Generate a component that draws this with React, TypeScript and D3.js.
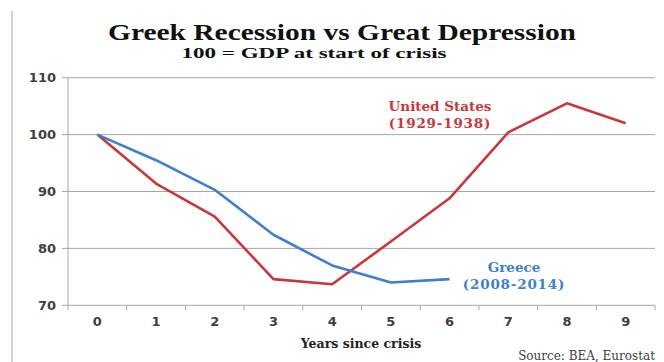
import React from "react";
import * as d3 from "d3";

const years = [0, 1, 2, 3, 4, 5, 6, 7, 8, 9];
const usValues = [100, 91.4, 85.6, 74.6, 73.7, 81.2, 88.8, 100.4, 105.5, 102.0];
const greeceValues = [100, 95.5, 90.3, 82.4, 77.0, 74.0, 74.6];
const yTicks = [70, 80, 90, 100, 110];

const W = 664;
const H = 362;
const left = 68;
const right = 655;
const top = 77.7;
const bottom = 305.3;

export default function App() {
  const x = d3.scaleBand<number>().domain(years).range([left, right]);
  const y = d3.scaleLinear().domain([70, 110]).range([bottom, top]);
  const cx = (i: number) => (x(years[i]) as number) + x.bandwidth() / 2;

  const line = d3
    .line<number>()
    .x((_, i) => cx(i))
    .y((d) => y(d));

  const grid = "#a6a6a6";
  const tickColor = "#404040";
  const red = "#c8383b";
  const blue = "#3f7fcf";
  const sans = "'DejaVu Sans', Verdana, sans-serif";
  const serif = "'DejaVu Serif', 'Liberation Serif', serif";
  const titleSerif = "'Liberation Serif', 'DejaVu Serif', serif";

  const boundaries = years.map((_, i) => left + i * x.step()).concat([right]);

  return (
    <svg
      width={W}
      height={H}
      style={{ position: "absolute", left: 0, top: 0, background: "#fff" }}
    >
      {/* frame edge */}
      <line x1={12} y1={11} x2={12} y2={H} stroke="#b5b5b5" strokeWidth={1.2} />

      {/* title */}
      <text
        x={342}
        y={40}
        textAnchor="middle"
        fontFamily={titleSerif}
        fontWeight="bold"
        fontSize={24}
        fill="#111"
        textLength={468}
        lengthAdjust="spacingAndGlyphs"
      >
        Greek Recession vs Great Depression
      </text>
      <text
        x={314}
        y={57.5}
        textAnchor="middle"
        fontFamily={titleSerif}
        fontWeight="bold"
        fontSize={14.5}
        fill="#111"
        textLength={265}
        lengthAdjust="spacingAndGlyphs"
      >
        100 = GDP at start of crisis
      </text>

      {/* horizontal grid */}
      {yTicks.map((t) => (
        <g key={t}>
          {t > 70 && (
            <line x1={left} x2={right} y1={y(t)} y2={y(t)} stroke={grid} strokeWidth={1} />
          )}
          <line x1={left - 6} x2={left} y1={y(t)} y2={y(t)} stroke={grid} strokeWidth={1} />
          <text
            x={left - 12}
            y={y(t)}
            dy="0.35em"
            textAnchor="end"
            fontFamily={sans}
            fontWeight="bold"
            fontSize={13}
            fill={tickColor}
          >
            {t}
          </text>
        </g>
      ))}

      {/* axes */}
      <line x1={left} x2={left} y1={top} y2={bottom} stroke={grid} strokeWidth={1} />
      <line x1={left} x2={right} y1={bottom} y2={bottom} stroke={grid} strokeWidth={1} />
      {boundaries.map((b, i) => (
        <line key={i} x1={b} x2={b} y1={bottom} y2={bottom + 5} stroke={grid} strokeWidth={1} />
      ))}
      {years.map((yr, i) => (
        <text
          key={yr}
          x={cx(i)}
          y={326}
          textAnchor="middle"
          fontFamily={sans}
          fontWeight="bold"
          fontSize={13}
          fill={tickColor}
        >
          {yr}
        </text>
      ))}

      {/* series */}
      <path d={line(usValues) || ""} fill="none" stroke={red} strokeWidth={2.6} strokeLinejoin="round" />
      <path d={line(greeceValues) || ""} fill="none" stroke={blue} strokeWidth={2.6} strokeLinejoin="round" />

      {/* series labels */}
      <text x={440} y={111} textAnchor="middle" fontFamily={serif} fontWeight="bold" fontSize={13.5} fill={red}>
        United States
      </text>
      <text x={440} y={128} textAnchor="middle" fontFamily={serif} fontWeight="bold" fontSize={13.5} fill={red} letterSpacing={0.8}>
        (1929-1938)
      </text>
      <text x={514} y={272} textAnchor="middle" fontFamily={serif} fontWeight="bold" fontSize={13.5} fill={blue}>
        Greece
      </text>
      <text x={514} y={289} textAnchor="middle" fontFamily={serif} fontWeight="bold" fontSize={13.5} fill={blue} letterSpacing={0.8}>
        (2008-2014)
      </text>

      {/* axis title and source */}
      <text x={361} y={348} textAnchor="middle" fontFamily={serif} fontWeight="bold" fontSize={12.5} fill="#222">
        Years since crisis
      </text>
      <text x={655} y={360} textAnchor="end" fontFamily={serif} fontSize={12} fill="#404040">
        Source:  BEA, Eurostat
      </text>
    </svg>
  );
}
